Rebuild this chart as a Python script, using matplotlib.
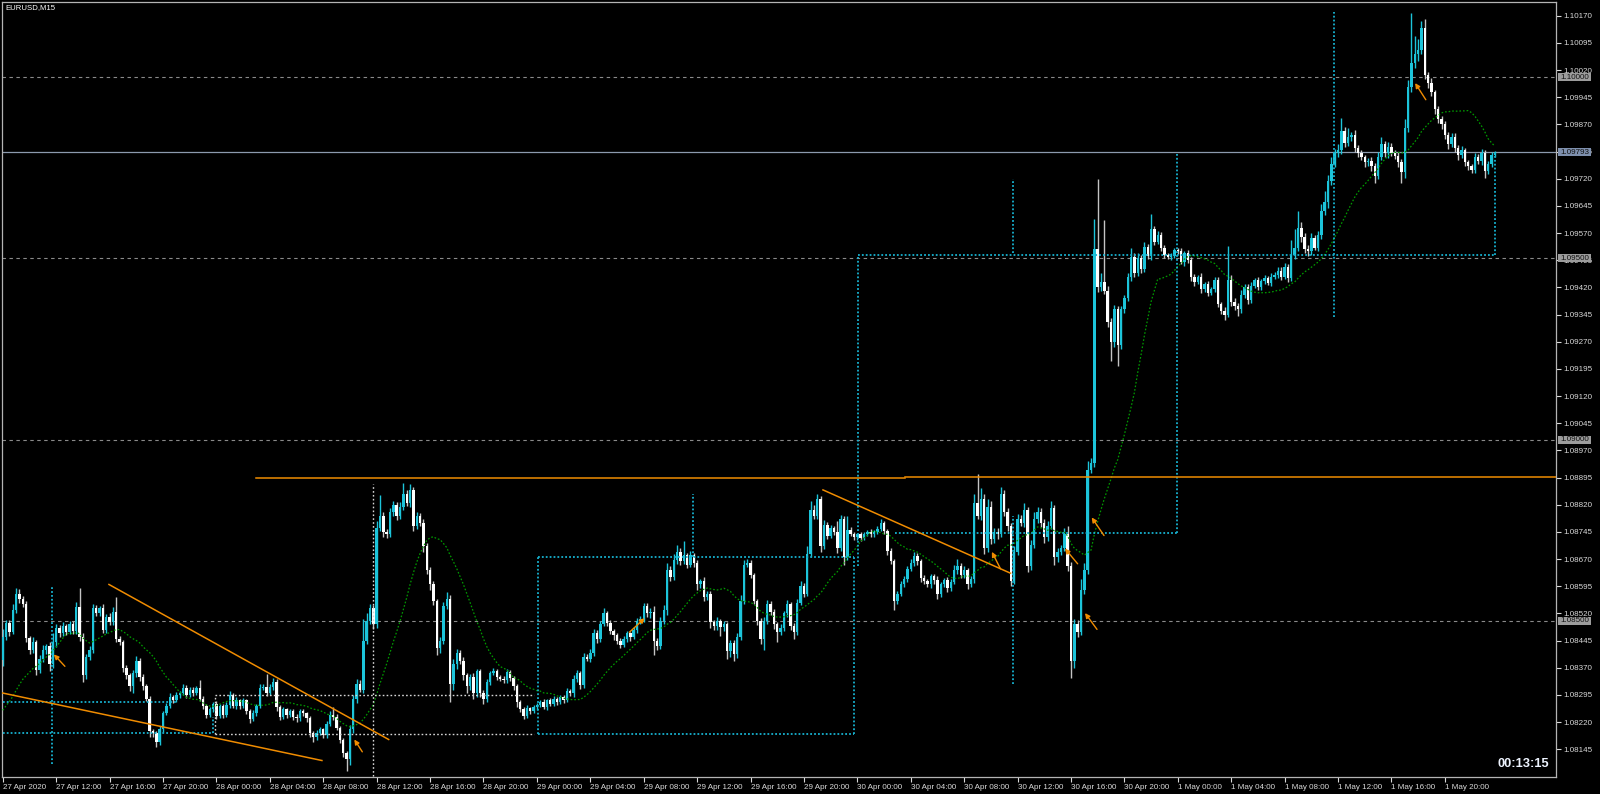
import numpy as np
import pandas as pd
import matplotlib
matplotlib.use("Agg")
import matplotlib.pyplot as plt
import matplotlib.transforms as mtransforms
from matplotlib.patches import Rectangle

plt.rcParams['font.family'] = ['Liberation Sans', 'DejaVu Sans']
plt.rcParams['lines.scale_dashes'] = False

# EURUSD M15, prices given as points above 1.08000, first bar 27 Apr 08:00
first_open = 391
closes = [
    456, 493, 470, 530, 575, 560, 545, 452, 420, 440, 365, 395, 420, 430, 380, 440,
    480, 465, 485, 470, 490, 472, 537, 455, 350, 400, 420, 535, 520, 535, 475, 510,
    495, 525, 450, 440, 370, 350, 320, 355, 390, 345, 320, 285, 195, 190, 165, 200,
    245, 265, 290, 280, 295, 300, 315, 295, 310, 300, 315, 285, 265, 240, 255, 270,
    238, 265, 240, 268, 295, 265, 280, 265, 280, 250, 228, 245, 265, 315, 318, 300,
    318, 330, 262, 235, 255, 240, 250, 235, 230, 250, 245, 230, 190, 180, 190, 200,
    185, 215, 240, 235, 205, 172, 135, 118, 200, 285, 325, 310, 445, 500, 535, 490,
    755, 790, 745, 738, 800, 820, 790, 815, 850, 825, 862, 760, 790, 770, 705, 640,
    600, 555, 425, 445, 540, 560, 325, 380, 410, 390, 350, 320, 345, 300, 360, 300,
    285, 330, 355, 362, 345, 340, 335, 358, 342, 320, 275, 255, 238, 258, 250, 262,
    268, 275, 262, 280, 270, 285, 275, 290, 282, 305, 300, 340, 355, 322, 400, 395,
    412, 465, 450, 490, 520, 494, 472, 460, 445, 432, 450, 465, 455, 475, 498, 505,
    540, 520, 525, 445, 430, 500, 530, 640, 620, 668, 690, 665, 680, 655, 682, 660,
    600, 610, 565, 575, 495, 485, 500, 482, 490, 415, 438, 408, 455, 555, 655, 660,
    625, 555, 500, 450, 500, 545, 525, 490, 470, 480, 520, 545, 485, 470, 550, 595,
    575, 685, 805, 790, 835, 705, 765, 735, 755, 745, 700, 780, 675, 750, 740, 730,
    738, 728, 738, 745, 738, 745, 752, 770, 748, 692, 665, 555, 575, 600, 615, 642,
    660, 678, 665, 618, 610, 600, 622, 612, 575, 600, 612, 590, 608, 640, 650, 625,
    640, 600, 615, 825, 790, 835, 700, 815, 725, 745, 740, 850, 800, 760, 610, 690,
    780, 770, 805, 650, 710, 780, 800, 770, 730, 760, 810, 675, 690, 700, 740, 652,
    390, 490, 470, 585, 640, 915, 935, 1525, 1420, 1435, 1410, 1325, 1270, 1360, 1262, 1360,
    1390, 1449, 1505, 1460, 1500, 1470, 1532, 1508, 1580, 1545, 1565, 1530, 1510, 1505, 1508, 1522,
    1520, 1490, 1515, 1495, 1450, 1435, 1450, 1415, 1430, 1405, 1415, 1440, 1375, 1355, 1345, 1440,
    1380, 1370, 1360, 1400, 1420, 1385, 1425, 1440, 1420, 1438, 1445, 1432, 1450, 1455, 1465, 1450,
    1475, 1445, 1510, 1530, 1585, 1560, 1525, 1520, 1555, 1530, 1565, 1630, 1655, 1715, 1760, 1790,
    1800, 1852, 1818, 1835, 1840, 1805, 1790, 1780, 1765, 1770, 1755, 1728, 1780, 1815, 1790, 1808,
    1792, 1782, 1765, 1738, 1860, 1972, 2040, 2065, 2075, 2135, 2005, 1985, 1958, 1912, 1885, 1870,
    1840, 1815, 1835, 1805, 1785, 1800, 1765, 1755, 1745, 1780, 1770, 1790, 1742, 1760, 1785, 1793,
]
up_wick = [
    20, 10, 8, 15, 15, 12, 8, 10, 6, 15, 8, 10, 12, 6, 10, 25,
    10, 8, 12, 6, 8, 10, 15, 53, 10, 8, 10, 12, 8, 6, 10, 8,
    10, 12, 40, 8, 6, 8, 5, 10, 12, 6, 8, 5, 6, 5, 6, 8,
    6, 8, 10, 6, 8, 6, 10, 8, 6, 8, 6, 20, 6, 5, 8, 6,
    8, 6, 5, 8, 10, 6, 8, 5, 6, 5, 6, 8, 6, 10, 8, 35,
    6, 12, 8, 5, 6, 5, 6, 5, 8, 6, 5, 4, 6, 5, 8, 6,
    5, 8, 10, 22, 8, 5, 4, 6, 12, 10, 15, 10, 60, 20, 10, 8,
    20, 58, 10, 8, 12, 10, 8, 12, 30, 10, 15, 8, 10, 8, 12, 10,
    8, 10, 6, 10, 12, 20, 10, 15, 12, 8, 10, 6, 8, 10, 8, 6,
    8, 10, 6, 8, 6, 5, 6, 8, 6, 5, 6, 5, 6, 8, 5, 6,
    5, 6, 8, 5, 6, 8, 5, 6, 5, 8, 6, 10, 8, 6, 10, 8,
    10, 12, 10, 8, 15, 6, 8, 6, 5, 6, 8, 6, 5, 8, 10, 8,
    10, 8, 10, 15, 6, 10, 12, 20, 10, 15, 20, 10, 40, 8, 10, 6,
    8, 6, 10, 8, 6, 8, 10, 6, 8, 6, 10, 8, 10, 15, 12, 10,
    8, 6, 5, 8, 10, 12, 8, 6, 5, 10, 8, 12, 6, 8, 10, 15,
    10, 20, 25, 15, 15, 10, 12, 8, 10, 6, 30, 12, 10, 40, 8, 6,
    5, 8, 6, 5, 8, 6, 8, 10, 6, 5, 8, 6, 8, 10, 8, 10,
    10, 12, 8, 6, 8, 5, 8, 6, 10, 8, 6, 8, 6, 15, 20, 8,
    10, 6, 8, 25, 80, 30, 15, 20, 15, 10, 12, 20, 10, 12, 10, 15,
    15, 12, 20, 10, 12, 20, 15, 10, 12, 15, 20, 10, 12, 10, 15, 20,
    10, 15, 12, 30, 20, 25, 15, 85, 195, 25, 170, 15, 10, 12, 8, 10,
    10, 12, 25, 10, 15, 10, 12, 8, 42, 10, 12, 8, 6, 5, 8, 6,
    8, 10, 6, 8, 10, 6, 5, 10, 6, 8, 6, 10, 8, 6, 12, 95,
    15, 10, 8, 12, 10, 8, 10, 6, 8, 6, 8, 6, 10, 8, 12, 10,
    12, 10, 40, 50, 45, 15, 10, 12, 15, 10, 12, 20, 30, 15, 20, 12,
    15, 35, 12, 25, 10, 15, 8, 10, 6, 8, 10, 8, 15, 20, 10, 12,
    10, 8, 12, 10, 25, 20, 138, 48, 30, 20, 25, 10, 12, 8, 10, 8,
    10, 8, 12, 10, 8, 10, 6, 8, 6, 10, 8, 12, 8, 10, 8, 4,
]
dn_wick = [
    15, 10, 12, 8, 10, 10, 8, 10, 12, 10, 15, 10, 8, 12, 20, 10,
    12, 10, 8, 10, 8, 10, 8, 10, 20, 10, 8, 10, 6, 8, 10, 8,
    8, 6, 10, 8, 12, 10, 15, 20, 10, 12, 10, 8, 15, 10, 13, 8,
    8, 6, 6, 8, 5, 8, 6, 8, 6, 8, 6, 8, 10, 8, 6, 8,
    10, 6, 8, 6, 8, 6, 8, 8, 6, 8, 10, 6, 8, 6, 5, 8,
    6, 8, 10, 8, 6, 8, 6, 8, 10, 6, 8, 10, 12, 15, 8, 6,
    10, 8, 6, 8, 8, 10, 12, 33, 15, 10, 12, 8, 10, 8, 10, 12,
    10, 8, 15, 10, 8, 10, 12, 8, 10, 8, 10, 12, 8, 10, 15, 12,
    15, 12, 20, 15, 10, 8, 50, 15, 12, 10, 15, 20, 12, 15, 10, 12,
    15, 10, 8, 6, 8, 6, 8, 6, 8, 10, 12, 8, 10, 6, 8, 6,
    8, 6, 5, 8, 6, 5, 8, 6, 8, 6, 8, 10, 8, 10, 8, 6,
    8, 10, 12, 8, 6, 10, 8, 12, 10, 8, 6, 8, 10, 6, 8, 6,
    8, 10, 12, 40, 12, 8, 10, 15, 10, 8, 12, 10, 8, 10, 8, 12,
    15, 10, 12, 8, 15, 10, 12, 25, 10, 20, 15, 20, 10, 8, 10, 8,
    8, 10, 12, 15, 30, 8, 10, 12, 30, 10, 8, 10, 12, 20, 10, 8,
    10, 8, 10, 8, 10, 15, 8, 10, 6, 8, 12, 8, 20, 8, 6, 8,
    6, 8, 6, 5, 6, 8, 6, 5, 8, 10, 8, 25, 10, 8, 6, 8,
    6, 8, 10, 12, 10, 8, 10, 12, 15, 10, 8, 10, 8, 6, 10, 8,
    8, 12, 8, 10, 8, 12, 15, 10, 12, 10, 15, 8, 10, 12, 15, 10,
    8, 10, 12, 15, 10, 8, 10, 12, 15, 10, 8, 20, 12, 10, 8, 15,
    47, 20, 15, 10, 12, 10, 8, 10, 12, 10, 8, 15, 54, 15, 60, 12,
    10, 8, 10, 12, 8, 10, 8, 10, 12, 8, 6, 10, 8, 6, 8, 6,
    8, 6, 10, 8, 12, 10, 6, 10, 8, 10, 6, 8, 10, 8, 15, 8,
    10, 12, 20, 10, 8, 10, 8, 6, 8, 6, 8, 6, 8, 6, 8, 10,
    8, 10, 8, 12, 10, 15, 10, 12, 10, 8, 10, 12, 10, 15, 12, 8,
    10, 12, 10, 8, 10, 12, 10, 8, 12, 10, 15, 20, 10, 8, 10, 12,
    10, 8, 12, 30, 15, 10, 12, 15, 20, 12, 10, 15, 10, 12, 10, 12,
    10, 12, 8, 10, 12, 8, 10, 12, 10, 8, 10, 12, 21, 10, 8, 6,
]
# closes before the first visible bar (feed the moving average)
prev_closes = [230, 245, 250, 238, 242, 255, 248, 236, 240, 232, 245, 250, 242, 235, 240, 248, 244, 236, 240]

time_labels = ["27 Apr 2020", "27 Apr 12:00", "27 Apr 16:00", "27 Apr 20:00",
               "28 Apr 00:00", "28 Apr 04:00", "28 Apr 08:00", "28 Apr 12:00", "28 Apr 16:00", "28 Apr 20:00",
               "29 Apr 00:00", "29 Apr 04:00", "29 Apr 08:00", "29 Apr 12:00", "29 Apr 16:00", "29 Apr 20:00",
               "30 Apr 00:00", "30 Apr 04:00", "30 Apr 08:00", "30 Apr 12:00", "30 Apr 16:00", "30 Apr 20:00",
               "1 May 00:00", "1 May 04:00", "1 May 08:00", "1 May 12:00", "1 May 16:00", "1 May 20:00"]
levels = [500, 1000, 1500, 2000]
bid = 1793

# drawing objects: (bar0, pts0, bar1, pts1)
orange_lines = [(-0.4, 301, 95.6, 114), (31.8, 600, 115.6, 172), (245.7, 861, 301.9, 631),
                (75.9, 893, 270.2, 893), (270.2, 897, 466, 897)]
orange_arrows = [(18.6, 374, 15.3, 407), (107.7, 138, 105.3, 172), (187.7, 468, 192.3, 507),
                 (298.9, 643, 296.3, 690), (322.0, 657, 318.2, 699), (329.9, 735, 326.2, 785),
                 (327.8, 476, 324.2, 521), (426.3, 1938, 423.1, 1984)]
cyan_lines = [(14.8, 105, 14.8, 595), (-1, 275, 52, 275), (-1, 189, 63, 189), (63, 189, 63, 235),
              (160.3, 187, 255, 187), (160.3, 676, 255, 676), (160.3, 187, 160.3, 676), (255, 187, 255, 676),
              (256.2, 651, 256.2, 1509), (256.2, 1509, 447, 1509), (447, 1509, 447, 1791),
              (267.3, 741, 351.8, 741), (351.8, 741, 351.8, 1791),
              (302.6, 325, 302.6, 790), (302.6, 1515, 302.6, 1720), (398.9, 1338, 398.9, 2180),
              (206.8, 676, 206.8, 851)]
white_lines = [(63.5, 294, 159.2, 294), (63.5, 186, 159.2, 186), (63.5, 186, 63.5, 294),
               (110.9, 60, 110.9, 876)]


def px(v):
    return 1.08 + np.asarray(v, dtype=float) / 1e5


CYAN = '#1CC4DA'
ORANGE = '#F08C00'

c = px(closes)
o = np.r_[px(first_open), c[:-1]]
h = np.maximum(o, c) + np.array(up_wick) / 1e5
l = np.minimum(o, c) - np.array(dn_wick) / 1e5
idx = np.arange(len(c))
bull = c >= o
ma = pd.Series(prev_closes + closes).rolling(20).mean().values[len(prev_closes):]

fig = plt.figure(figsize=(16, 7.94), dpi=100, facecolor='black')
ax = fig.add_axes([1.5 / 1600, 17 / 794, 1554.5 / 1600, 775 / 794])
ax.set_facecolor('black')
ax.set_xlim(-0.39, 465.3)
ax.set_ylim(1.080685, 1.102078)

# level lines and bid line
for lv in levels:
    ax.axhline(px(lv), color='#8A8A8A', lw=0.8, dashes=(2.5, 2.5), zorder=1)
ax.axhline(px(bid), color='#8C9AAE', lw=0.9, zorder=1)

# candles
ax.vlines(idx[bull], l[bull], h[bull], color=CYAN, lw=1.0, zorder=2)
ax.vlines(idx[~bull], l[~bull], h[~bull], color='#C4C4C4', lw=1.0, zorder=2)
body = np.maximum(np.abs(c - o), 0.000014)
ax.bar(idx[bull], body[bull], bottom=np.minimum(o, c)[bull], width=0.72, color=CYAN, lw=0,
       antialiased=False, zorder=3)
ax.bar(idx[~bull], body[~bull], bottom=np.minimum(o, c)[~bull], width=0.72, color='white', lw=0,
       antialiased=False, zorder=3)

# moving average
ax.plot(idx, px(ma), color='#009A00', lw=0.9, dashes=(1.2, 1.4), zorder=4)

for x0, v0, x1, v1 in cyan_lines:
    ax.plot([x0, x1], px([v0, v1]), color='#17B2D0', lw=1.3, dashes=(1.3, 1.5), zorder=5)
for x0, v0, x1, v1 in white_lines:
    ax.plot([x0, x1], px([v0, v1]), color='#D6D6D6', lw=1.0, dashes=(1.2, 1.6), zorder=5)
for x0, v0, x1, v1 in orange_lines:
    ax.plot([x0, x1], px([v0, v1]), color=ORANGE, lw=1.1, zorder=6)
for x0, v0, x1, v1 in orange_arrows:
    ax.annotate('', xy=(x1, px(v1)), xytext=(x0, px(v0)),
                arrowprops=dict(arrowstyle='-|>', color=ORANGE, lw=1.0, mutation_scale=7,
                                shrinkA=0, shrinkB=0), zorder=7)

# axes look
for s in ax.spines.values():
    s.set_color('#B4B4B4')
    s.set_linewidth(0.9)
yt = 1.08145 + 0.00075 * np.arange(28)
ax.yaxis.tick_right()
ax.set_yticks(yt)
ax.set_yticklabels([f"{v:.5f}" for v in yt])
ax.tick_params(axis='y', colors='#DADADA', labelsize=5.8, length=3.5, width=0.8, pad=1.5)
ax.set_xticks(np.arange(0, len(time_labels) * 16, 16))
ax.set_xticklabels(time_labels, ha='left')
ax.tick_params(axis='x', colors='#DADADA', labelsize=5.8, length=3.5, width=0.8, pad=1.5)

# price labels for level / bid lines
trans = mtransforms.blended_transform_factory(ax.transAxes, ax.transData)
x_box = (1558 - 1.5) / 1554.5
w_box = 33 / 1554.5
for lv, fc in [(v, '#9C9C9C') for v in levels] + [(bid, '#7E90AE')]:
    ax.add_patch(Rectangle((x_box, px(lv) - 0.00011), w_box, 0.00022, transform=trans,
                           facecolor=fc, edgecolor='none', clip_on=False, zorder=10))
    ax.text(x_box + 2 / 1554.5, px(lv), f"{px(lv):.5f}", transform=trans, ha='left', va='center',
            fontsize=5.8, color='#111111', clip_on=False, zorder=11)

fig.text(5 / 1600, 1 - 7.5 / 794, "EURUSD,M15", fontsize=5.6, color='white', va='center', ha='left')
fig.text(1497 / 1600, 1 - 764 / 794, "00:13:15", fontsize=9.3, fontweight='bold',
         color='#EEF4FF', va='center', ha='left')

fig.savefig("out.png", dpi=100, facecolor='black')
